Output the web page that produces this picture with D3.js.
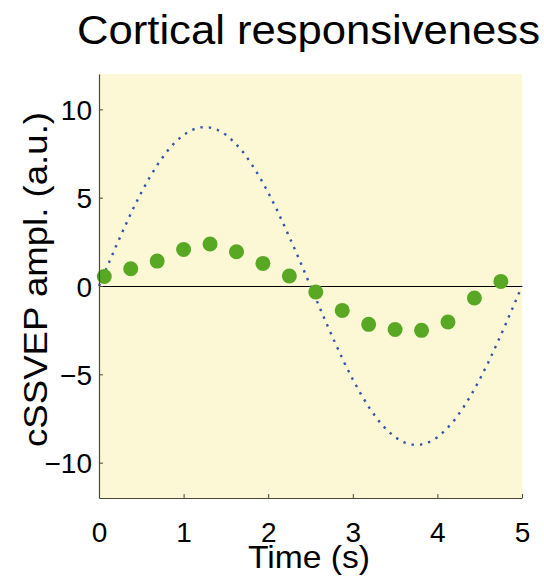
<html>
<head>
<meta charset='UTF-8'>
<script src="https://d3js.org/d3.v7.min.js"></script>
<style>
  body { margin: 0; background: #ffffff; }
  text { font-family: "Liberation Sans", Arial, sans-serif; fill: #000; }
</style>
</head>
<body>
<svg id="chart" width="544" height="578"></svg>
<script>
// stimulus curve, read every 0.1 s
let curveT = d3.range(0, 51).map(i => i / 10)
let curveY = [0, 1.13, 2.24, 3.31, 4.34, 5.29, 6.16, 6.93, 7.60, 8.14, 8.56,
              8.84, 8.98, 8.98, 8.84, 8.56, 8.14, 7.60, 6.93, 6.16, 5.29,
              4.34, 3.31, 2.24, 1.13, 0, -1.13, -2.24, -3.31, -4.34, -5.29,
              -6.16, -6.93, -7.60, -8.14, -8.56, -8.84, -8.98, -8.98, -8.84, -8.56,
              -8.14, -7.60, -6.93, -6.16, -5.29, -4.34, -3.31, -2.24, -1.13, 0]

// measured cSSVEP amplitudes
let dotT = [0.0625, 0.375, 0.6875, 1.0, 1.3125, 1.625, 1.9375, 2.25,
            2.5625, 2.875, 3.1875, 3.5, 3.8125, 4.125, 4.4375, 4.75]
let dotY = [0.54, 0.98, 1.41, 2.07, 2.38, 1.94, 1.28, 0.57,
            -0.34, -1.38, -2.17, -2.46, -2.51, -2.04, -0.68, 0.26]

let xTicks = [0, 1, 2, 3, 4, 5]
let yTicks = [-10, -5, 0, 5, 10]

let svg = d3.select('svg#chart')
let pLeft = 99, pRight = 522, pTop = 74, pBottom = 498

let x = d3.scaleLinear().domain([0, 5]).range([pLeft, pRight])
let y = d3.scaleLinear().domain([-12, 12]).range([pBottom, pTop])

// background of the axes
svg.append('rect')
   .attr('x', pLeft).attr('y', pTop)
   .attr('width', pRight - pLeft).attr('height', pBottom - pTop)
   .style('fill', '#fcf8d6')

// zero line
svg.append('line')
   .attr('x1', x(0)).attr('x2', x(5))
   .attr('y1', Math.round(y(0)) + 0.5).attr('y2', Math.round(y(0)) + 0.5)
   .style('stroke', '#000').style('stroke-width', 1.2)

// dotted stimulus
let line = d3.line().x((d, i) => x(curveT[i])).y(d => y(d))
svg.append('path')
   .attr('d', line(curveY))
   .style('fill', 'none')
   .style('stroke', '#3454a8')
   .style('stroke-width', 2.4)
   .style('stroke-dasharray', '2.4,6')

// amplitude dots
dotY.forEach((v, i) => {
    svg.append('circle')
       .attr('cx', x(dotT[i])).attr('cy', y(v))
       .attr('r', 7.5)
       .style('fill', '#58a823')
})

// axes, ticks inside like matlab
let xAxis = d3.axisBottom(x).tickValues(xTicks).tickFormat(d3.format('d'))
              .tickSizeInner(-4).tickSizeOuter(0).tickPadding(24)
let yAxis = d3.axisLeft(y).tickValues(yTicks).tickFormat(d3.format('d'))
              .tickSizeInner(-4).tickSizeOuter(0).tickPadding(7)

let gx = svg.append('g').attr('transform', `translate(0,${pBottom})`).call(xAxis)
let gy = svg.append('g').attr('transform', `translate(${pLeft},0)`).call(yAxis)

;[gx, gy].forEach(g => {
    g.select('.domain').style('stroke', '#4a4a3a').style('stroke-width', 1.2)
    g.selectAll('.tick line').style('stroke', '#4a4a3a')
    g.selectAll('.tick text').style('font-size', '28px').style('font-family', '"Liberation Sans", Arial, sans-serif')
})
gy.selectAll('.tick text').attr('dy', '0.36em')

// labels
svg.append('text')
   .attr('x', 77).attr('y', 43.5)
   .attr('textLength', 463).attr('lengthAdjust', 'spacingAndGlyphs')
   .style('font-size', '40px')
   .text('Cortical responsiveness')

svg.append('text')
   .attr('x', 248).attr('y', 568)
   .attr('textLength', 122).attr('lengthAdjust', 'spacingAndGlyphs')
   .style('font-size', '32px')
   .text('Time (s)')

svg.append('text')
   .attr('transform', 'translate(47,447) rotate(-90)')
   .attr('textLength', 335).attr('lengthAdjust', 'spacingAndGlyphs')
   .style('font-size', '33px')
   .text('cSSVEP ampl. (a.u.)')
</script>
</body>
</html>
